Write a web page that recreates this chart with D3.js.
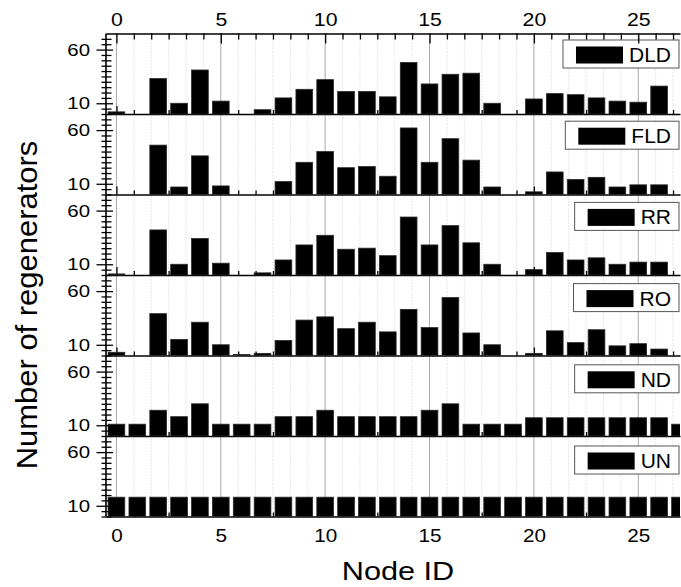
<!DOCTYPE html>
<html>
<head>
<meta charset="utf-8">
<title>Number of regenerators per node</title>
<style>
    body { margin: 0; background: #fff; }
    svg text { font-family: "Liberation Sans", Arial, sans-serif; fill: #000; }
    .axis path, .axis line { stroke: #000; }
</style>
</head>
<body>
<div id="vis"></div>
<script src="https://d3js.org/d3.v7.min.js"></script>
<script>
    var width = 681, height = 587;

    // node ids 0..27
    var nodes = d3.range(0, 28);
    var series = ["DLD", "FLD", "RR", "RO", "ND", "UN"];

    var dld = [2, 0, 33, 10, 41, 12, 0, 4, 15, 23, 32, 21, 21, 16, 48, 28, 37, 38, 10, 0, 14, 19, 18, 15, 12, 11, 26, 0];
    var fld = [0, 0, 46, 7, 36, 8, 0, 0, 12, 30, 40, 25, 26, 17, 62, 30, 52, 32, 7, 0, 2.5, 21, 14, 16, 7, 9, 9, 0];
    var rr  = [1, 0, 42, 10, 34, 11, 0, 2, 14, 28, 37, 24, 25, 18, 54, 28, 46, 30, 10, 0, 5, 21, 14, 16, 10, 12, 12, 0];
    var ro  = [3, 0, 39, 15, 31, 10, 1, 2, 14, 33, 36, 25, 31, 22, 43, 26, 54, 21, 10, 0, 2, 23, 12, 24, 9, 11, 6, 0];
    var nd  = [11, 11, 24, 18, 30, 11, 11, 11, 18, 18, 24, 18, 18, 18, 18, 24, 30, 11, 11, 11, 17, 17, 17, 17, 17, 17, 17, 11];
    var un  = [18, 18, 18, 18, 18, 18, 18, 18, 18, 18, 18, 18, 18, 18, 18, 18, 18, 18, 18, 18, 18, 18, 18, 18, 18, 18, 18, 18];
    var values = [dld, fld, rr, ro, nd, un];

    var xMajor = [0, 5, 10, 15, 20, 25];
    var xTicks = d3.range(0, 33).map(function(i) { return i * 5 / 6; });
    var yMajor = [10, 60];
    var yTicks = d3.range(0, 75, 5);

    var plotTop = 33.5, panelH = 80.5;
    var x = d3.scaleLinear().domain([-0.5, 27]).range([106, 680]);
    var y = d3.scaleLinear().domain([0, 75]).range([panelH, 0]);
    var barW = x(0.4) - x(-0.4);

    function isMajor(d) {
        return xMajor.some(function(m) { return Math.abs(m - d) < 1e-6; });
    }

    var svg = d3.select("#vis").append("svg")
            .attr("width", width)
            .attr("height", height);

    svg.append("clipPath").attr("id", "plot")
            .append("rect")
            .attr("x", x.range()[0]).attr("y", -1)
            .attr("width", x.range()[1] - x.range()[0])
            .attr("height", panelH + 2);

    // vertical grid
    svg.append("g").selectAll("line")
            .data(xTicks)
            .enter().append("line")
            .attr("x1", function(d) { return x(d); })
            .attr("x2", function(d) { return x(d); })
            .attr("y1", plotTop)
            .attr("y2", plotTop + 6 * panelH)
            .attr("stroke", function(d) { return isMajor(d) ? "#a8a8a8" : "#cfcfcf"; })
            .attr("stroke-dasharray", function(d) { return isMajor(d) ? null : "1,2"; });

    series.forEach(function(name, p) {
        var g = svg.append("g")
                .attr("transform", "translate(0," + (plotTop + p * panelH) + ")");

        // inner ticks along the bottom of each panel
        var bx = g.append("g")
                .attr("class", "axis")
                .attr("transform", "translate(0," + panelH + ")")
                .call(d3.axisBottom(x).tickValues(xTicks).tickSizeOuter(0)
                        .tickFormat(function(d) {
                            return (p === series.length - 1 && isMajor(d)) ? Math.round(d) : "";
                        }));
        bx.select(".domain").attr("stroke-width", 1.6);
        bx.selectAll(".tick line")
                .attr("y2", function(d) { return isMajor(d) ? -8 : -4; })
                .attr("stroke-width", 1.3);
        bx.selectAll(".tick text")
                .attr("y", 26).attr("dy", 0)
                .attr("transform", "scale(1.15,1)")
                .style("font-size", "18px");

        g.append("g")
                .attr("clip-path", "url(#plot)")
                .selectAll("rect")
                .data(values[p])
                .enter().append("rect")
                .attr("x", function(d, i) { return x(nodes[i]) - barW / 2; })
                .attr("y", function(d) { return y(d); })
                .attr("width", barW)
                .attr("height", function(d) { return y(0) - y(d); })
                .attr("fill", "#000")
                .attr("stroke", "#2a2a2a")
                .attr("stroke-width", 0.8);

        // left axis
        var ly = g.append("g")
                .attr("class", "axis")
                .attr("transform", "translate(" + x.range()[0] + ",0)")
                .call(d3.axisLeft(y).tickValues(yTicks)
                        .tickFormat(function(d) { return yMajor.indexOf(d) >= 0 ? d : ""; }));
        ly.select(".domain").remove();
        ly.selectAll(".tick line")
                .attr("x1", function(d) { return yMajor.indexOf(d) >= 0 ? 7 : 5.5; })
                .attr("x2", function(d) { return yMajor.indexOf(d) >= 0 ? -9.5 : -4.5; })
                .attr("stroke-width", 1.3);
        ly.selectAll(".tick text")
                .attr("x", -16 / 1.2)
                .attr("transform", "scale(1.2,1)")
                .style("font-size", "17px");

        // legend
        var lg = g.append("g");
        var box = lg.append("rect")
                .attr("y", 6.5 + p * 0.7).attr("height", 28)
                .attr("fill", "#fff")
                .attr("stroke", "#555")
                .attr("stroke-width", 1);
        var sw = lg.append("rect")
                .attr("y", 13 + p * 0.7).attr("width", 47).attr("height", 17)
                .attr("fill", "#000");
        var txt = lg.append("text")
                .attr("y", 28.5 + p * 0.7)
                .style("font-size", "21px")
                .text(name);
        var tw = txt.node().getComputedTextLength();
        var bw = 13 + 47 + 6 + tw + 8;
        var bx0 = 679 - bw;
        box.attr("x", bx0).attr("width", bw);
        sw.attr("x", bx0 + 13);
        txt.attr("x", bx0 + 13 + 47 + 6);
    });

    // top axis
    var tx = svg.append("g")
            .attr("class", "axis")
            .attr("transform", "translate(0," + plotTop + ")")
            .call(d3.axisTop(x).tickValues(xTicks).tickSizeOuter(0)
                    .tickFormat(function(d) { return isMajor(d) ? Math.round(d) : ""; }));
    tx.select(".domain").attr("stroke-width", 1.6);
    tx.selectAll(".tick line")
            .attr("y2", function(d) { return isMajor(d) ? 10 : 6; })
            .attr("stroke-width", 1.3);
    tx.selectAll(".tick text")
            .attr("y", -7.5).attr("dy", 0)
            .attr("transform", "scale(1.15,1)")
            .style("font-size", "18.5px");

    // left spine
    svg.append("line")
            .attr("x1", x.range()[0]).attr("x2", x.range()[0])
            .attr("y1", plotTop).attr("y2", plotTop + 6 * panelH)
            .attr("stroke", "#000")
            .attr("stroke-width", 1.6);

    svg.append("text")
            .attr("text-anchor", "middle")
            .attr("transform", "translate(398,580) scale(1.18,1)")
            .style("font-size", "26px")
            .text("Node ID");

    svg.append("text")
            .attr("text-anchor", "middle")
            .attr("transform", "translate(37,305) rotate(-90) scale(1.05,1)")
            .style("font-size", "29.5px")
            .text("Number of regenerators");
</script>
</body>
</html>
